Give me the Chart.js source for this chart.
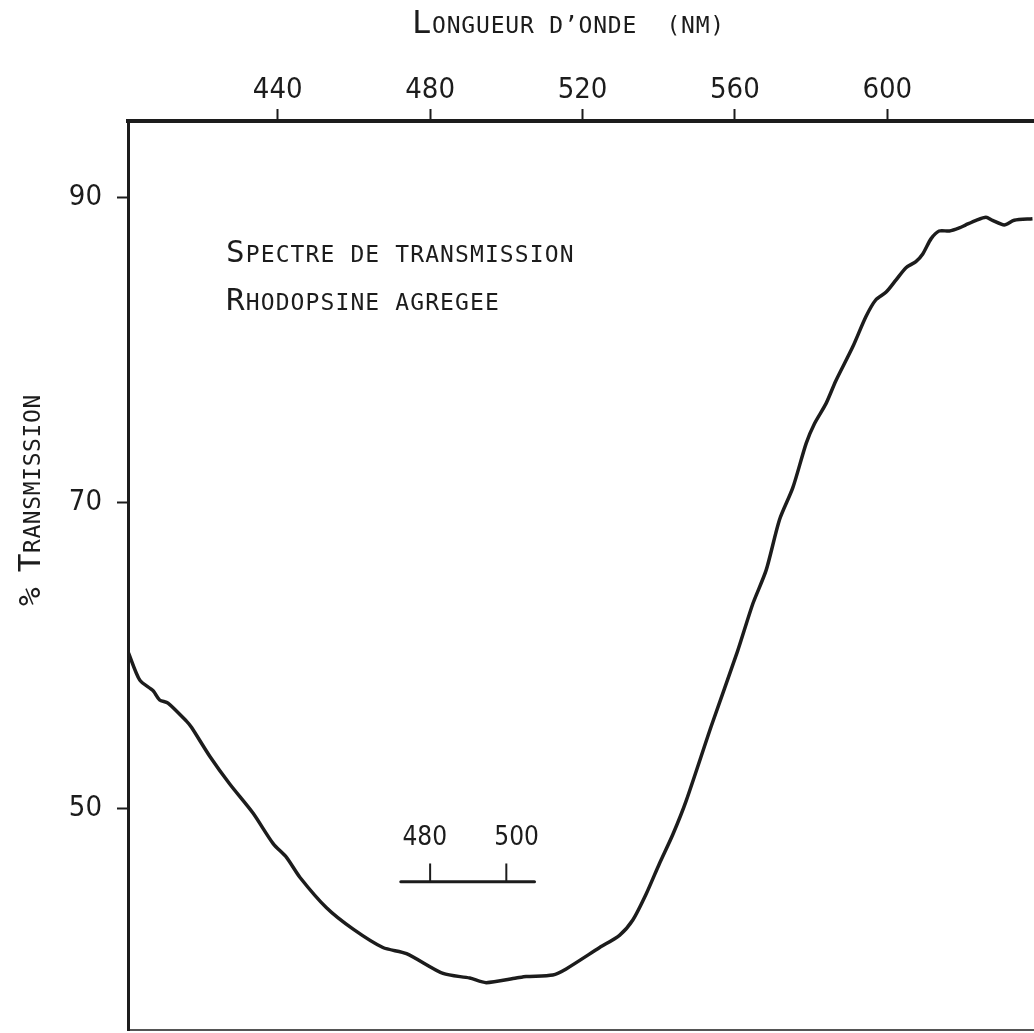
<!DOCTYPE html>
<html>
<head>
<meta charset="utf-8">
<style>
html,body{margin:0;padding:0;background:#fff;overflow:hidden}
canvas{display:block}
</style>
<script src="https://cdn.jsdelivr.net/npm/chart.js@4/dist/chart.umd.min.js"></script>
</head>
<body>
<canvas id="c" width="1034" height="1033" style="width:1034px;height:1033px"></canvas>
<script>
// ---- data ----
const wavelengths = [400.8, 403.8, 407.3, 409.0, 411.2, 416.1, 417.4, 422.2, 427.4, 433.5,
  438.8, 442.3, 445.8, 452.8, 459.8, 467.6, 473.8, 483.4, 490.4, 494.7,
  502.6, 505.2, 512.2, 515.7, 524.5, 529.7, 533.2, 536.7, 540.2, 543.7,
  547.2, 553.8, 560.7, 564.7, 568.2, 571.7, 575.2, 578.7, 580.9, 583.9,
  586.5, 590.9, 594.4, 597.0, 599.7, 602.3, 604.9, 607.5, 609.3, 611.5,
  613.6, 616.3, 618.9, 620.6, 623.3, 625.9, 627.6, 630.7, 633.3, 638.1];
const transmission = [60.2, 58.4, 57.7, 57.1, 56.9, 55.7, 55.3, 53.4, 51.6, 49.7,
  47.7, 46.8, 45.5, 43.5, 42.1, 40.9, 40.5, 39.2, 38.9, 38.6,
  38.9, 39.0, 39.1, 39.5, 40.9, 41.7, 42.7, 44.4, 46.4, 48.3,
  50.5, 55.4, 60.3, 63.4, 65.6, 68.9, 71.0, 73.9, 75.2, 76.5,
  78.0, 80.2, 82.2, 83.3, 83.8, 84.6, 85.4, 85.8, 86.3, 87.3,
  87.8, 87.8, 88.0, 88.2, 88.5, 88.7, 88.5, 88.2, 88.5, 88.6];
const xTickValues = [440, 480, 520, 560, 600];
const yTickValues = [50, 70, 90];
const xRange = [400.7, 638.5];
const yRange = [35.5, 95];
// wavelength scale bar drawn inside the plot
const scaleBarSpan = [472.3, 507.4];
const scaleBarLevel = 45.2;
const scaleBarTickTop = 46.4;
const scaleBarTicks = [480, 500];
const scaleBarLabels = ['480', '500'];
const scaleBarLabelX = [478.6, 502.7];
const scaleBarLabelY = 47.6;
// texts
const xTitle = 'Longueur d\u2019onde  (nm)';
const yTitle = '% Transmission';
const insetLines = ['Spectre de transmission', 'Rhodopsine agregee'];

const INK = '#1c1c1c';
const NARROW = '"Liberation Sans Narrow", "DejaVu Sans Condensed", "Arial Narrow", sans-serif';
const MONO = '"DejaVu Sans Mono", "Liberation Mono", monospace';

function drawSC(ctx, text, x, y, big, small, spacing) {
  let cx = x;
  for (const ch of text) {
    const isUpper = ch !== ch.toLowerCase() || ch === '%';
    const size = isUpper ? big : small;
    ctx.font = size + 'px ' + MONO;
    const g = ch.toUpperCase();
    ctx.fillText(g, cx, y);
    cx += ctx.measureText(g).width + spacing;
  }
}

const textPlugin = {
  id: 'texts',
  afterDraw(chart) {
    const ctx = chart.ctx;
    ctx.save();
    ctx.fillStyle = INK;
    ctx.textAlign = 'left';
    ctx.textBaseline = 'alphabetic';
    drawSC(ctx, xTitle, 412, 33, 32, 23, 0.8);
    ctx.save();
    ctx.translate(40, 606);
    ctx.rotate(-Math.PI / 2);
    drawSC(ctx, yTitle, 0, 0, 31, 23, 0.6);
    ctx.restore();
    drawSC(ctx, insetLines[0], 226, 262, 31, 23, 1.1);
    drawSC(ctx, insetLines[1], 226, 310, 31, 23, 1.1);
    const xs = chart.scales.x, ys = chart.scales.y;
    ctx.font = '26px ' + NARROW;
    ctx.textAlign = 'center';
    scaleBarLabels.forEach((t, i) => {
      ctx.fillText(t, xs.getPixelForValue(scaleBarLabelX[i]), ys.getPixelForValue(scaleBarLabelY));
    });
    ctx.restore();
  }
};

const curve = wavelengths.map((w, i) => ({x: w, y: transmission[i]}));
const lineStyle = {borderColor: INK, backgroundColor: INK, pointRadius: 0, fill: false};
const datasets = [
  Object.assign({data: curve, borderWidth: 3.5, tension: 0.25}, lineStyle),
  Object.assign({data: scaleBarSpan.map(v => ({x: v, y: scaleBarLevel})), borderWidth: 3, borderCapStyle: 'round'}, lineStyle)
];
scaleBarTicks.forEach(t => {
  datasets.push(Object.assign({data: [{x: t, y: scaleBarLevel}, {x: t, y: scaleBarTickTop}], borderWidth: 2}, lineStyle));
});

function noPad(s) { s.paddingTop = 0; s.paddingBottom = 0; s.paddingLeft = 0; s.paddingRight = 0; }

new Chart(document.getElementById('c'), {
  type: 'line',
  data: {datasets},
  plugins: [textPlugin],
  options: {
    responsive: false,
    devicePixelRatio: 1,
    animation: false,
    events: [],
    layout: {padding: {left: 0, top: 0, right: 0, bottom: 3}},
    plugins: {legend: {display: false}, tooltip: {enabled: false}},
    scales: {
      x: {
        type: 'linear', position: 'top', min: xRange[0], max: xRange[1],
        afterBuildTicks: s => { s.ticks = xTickValues.map(v => ({value: v})); },
        afterFit: s => { s.height = 121; noPad(s); },
        grid: {display: true, drawOnChartArea: false, drawTicks: true, tickLength: 12, tickWidth: 2, tickColor: INK},
        border: {display: true, color: INK, width: 4},
        ticks: {font: {family: NARROW, size: 29}, color: INK, padding: 1, maxRotation: 0, autoSkip: false}
      },
      x2: {
        type: 'linear', position: 'bottom', min: xRange[0], max: xRange[1],
        afterFit: s => { s.height = 0; noPad(s); },
        grid: {display: true, drawOnChartArea: false, drawTicks: false},
        border: {display: true, color: '#555', width: 2},
        ticks: {display: false}
      },
      y: {
        type: 'linear', position: 'left', min: yRange[0], max: yRange[1],
        afterBuildTicks: s => { s.ticks = yTickValues.map(v => ({value: v})); },
        afterFit: s => { s.width = 128; noPad(s); },
        grid: {display: true, drawOnChartArea: false, drawTicks: true, tickLength: 11, tickWidth: 2, tickColor: INK},
        border: {display: true, color: INK, width: 3},
        ticks: {font: {family: NARROW, size: 29}, color: INK, padding: 15, autoSkip: false}
      }
    }
  }
});
</script>
</body>
</html>
